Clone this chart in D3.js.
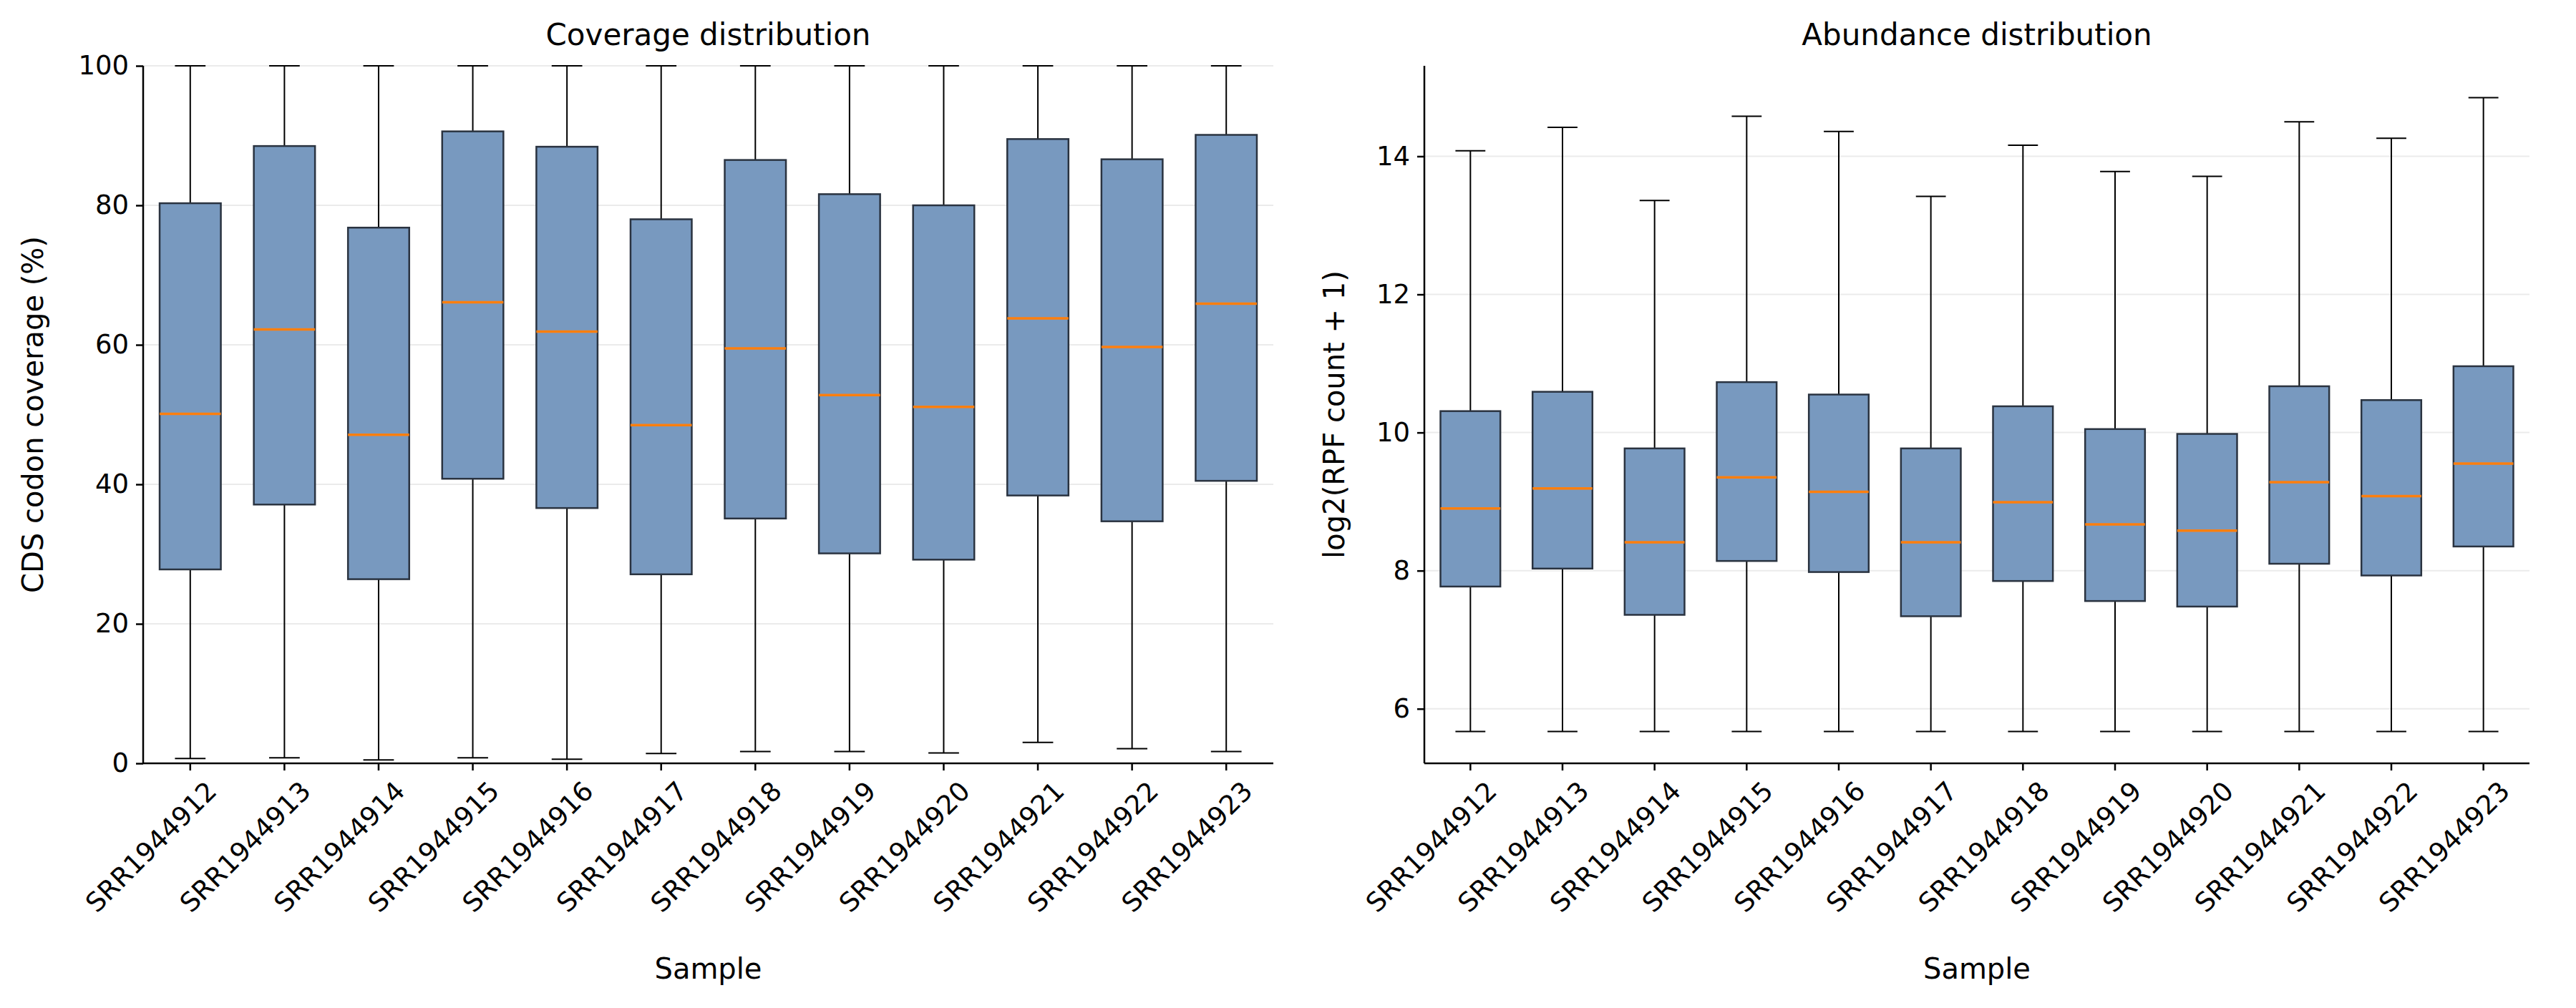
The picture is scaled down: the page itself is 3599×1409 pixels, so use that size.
<!DOCTYPE html>
<html><head><meta charset="utf-8">
<script src="https://cdn.jsdelivr.net/npm/d3@7"></script>
<style>body{margin:0;background:#fff}text{font-family:"DejaVu Sans",sans-serif}</style>
</head><body><svg id="c" width="3599" height="1409"></svg>
<script>
const samples=["SRR1944912","SRR1944913","SRR1944914","SRR1944915","SRR1944916","SRR1944917","SRR1944918","SRR1944919","SRR1944920","SRR1944921","SRR1944922","SRR1944923"];
const covLow=[0.7,0.8,0.5,0.8,0.6,1.4,1.7,1.7,1.5,3.0,2.1,1.7];
const covQ1=[27.8,37.1,26.4,40.8,36.6,27.1,35.1,30.1,29.2,38.4,34.7,40.5];
const covMed=[50.1,62.2,47.1,66.1,61.9,48.5,59.5,52.8,51.1,63.8,59.7,65.9];
const covQ3=[80.3,88.5,76.8,90.6,88.4,78.0,86.5,81.6,80.0,89.5,86.6,90.1];
const covHigh=[100,100,100,100,100,100,100,100,100,100,100,100];
const abLow=[5.67,5.67,5.67,5.67,5.67,5.67,5.67,5.67,5.67,5.67,5.67,5.67];
const abQ1=[7.77,8.03,7.36,8.14,7.98,7.34,7.85,7.56,7.48,8.10,7.93,8.35];
const abMed=[8.90,9.19,8.41,9.35,9.14,8.41,8.99,8.67,8.58,9.28,9.08,9.55];
const abQ3=[10.31,10.59,9.77,10.73,10.55,9.77,10.38,10.05,9.98,10.67,10.47,10.96];
const abHigh=[14.08,14.42,13.36,14.58,14.36,13.42,14.16,13.78,13.71,14.50,14.26,14.85];
const covTicks=[0,20,40,60,80,100];
const abTicks=[6,8,10,12,14];

const svg=d3.select("#c");
function panel(x0,x1,y0,y1,domain,ticks,low,q1,med,q3,high,title,ylabel,ylabX){
  const g=svg.append("g");
  const x=d3.scaleBand().domain(samples).range([x0,x1]).padding(0);
  const y=d3.scaleLinear().domain(domain).range([y1,y0]);
  g.selectAll(".grid").data(ticks).join("line").attr("x1",x0).attr("x2",x1)
   .attr("y1",d=>y(d)).attr("y2",d=>y(d)).attr("stroke","#ebebeb").attr("stroke-width",2);
  const bw=x.bandwidth()*0.65, cw=bw/2;
  samples.forEach((s,i)=>{
    const cx=x(s)+x.bandwidth()/2;
    g.append("line").attr("x1",cx).attr("x2",cx).attr("y1",y(low[i])).attr("y2",y(q1[i])).attr("stroke","#000").attr("stroke-width",2);
    g.append("line").attr("x1",cx).attr("x2",cx).attr("y1",y(q3[i])).attr("y2",y(high[i])).attr("stroke","#000").attr("stroke-width",2);
    [low[i],high[i]].forEach(v=>g.append("line").attr("x1",cx-cw/2).attr("x2",cx+cw/2).attr("y1",y(v)).attr("y2",y(v)).attr("stroke","#000").attr("stroke-width",2));
    g.append("rect").attr("x",cx-bw/2).attr("width",bw).attr("y",y(q3[i])).attr("height",y(q1[i])-y(q3[i]))
     .attr("fill","#7899bf").attr("stroke","#2a3340").attr("stroke-width",2.5);
    g.append("line").attr("x1",cx-bw/2).attr("x2",cx+bw/2).attr("y1",y(med[i])).attr("y2",y(med[i])).attr("stroke","#ff7f0e").attr("stroke-width",3.5);
  });
  const ya=g.append("g").attr("transform",`translate(${x0},0)`).call(d3.axisLeft(y).tickValues(ticks).tickSize(10).tickPadding(10));
  ya.selectAll("text").attr("font-size",37).attr("fill","#000");
  ya.selectAll("line,path").attr("stroke","#000").attr("stroke-width",2.5);
  ya.select("path").attr("d",`M0,${y1}V${y0}`);
  const xa=g.append("g").attr("transform",`translate(0,${y1})`).call(d3.axisBottom(x).tickSize(10).tickPadding(8));
  xa.selectAll("line,path").attr("stroke","#000").attr("stroke-width",2.5);
  xa.select("path").attr("d",`M${x0},0H${x1}`);
  xa.selectAll("text").attr("font-size",37).attr("fill","#000").attr("text-anchor","end")
    .attr("transform","translate(8,10) rotate(-45)").attr("dy","0.7em");
  g.append("text").attr("x",(x0+x1)/2).attr("y",63).attr("text-anchor","middle").attr("font-size",42).text(title);
  g.append("text").attr("x",(x0+x1)/2).attr("y",1368).attr("text-anchor","middle").attr("font-size",40).text("Sample");
  g.append("text").attr("transform",`translate(${ylabX},${(y0+y1)/2}) rotate(-90)`).attr("text-anchor","middle").attr("font-size",40).text(ylabel);
}
panel(200,1779,92,1067,[0,100],covTicks,covLow,covQ1,covMed,covQ3,covHigh,"Coverage distribution","CDS codon coverage (%)",60);
panel(1990,3534,92,1067,[5.21,15.31],abTicks,abLow,abQ1,abMed,abQ3,abHigh,"Abundance distribution","log2(RPF count + 1)",1878);
</script></body></html>
